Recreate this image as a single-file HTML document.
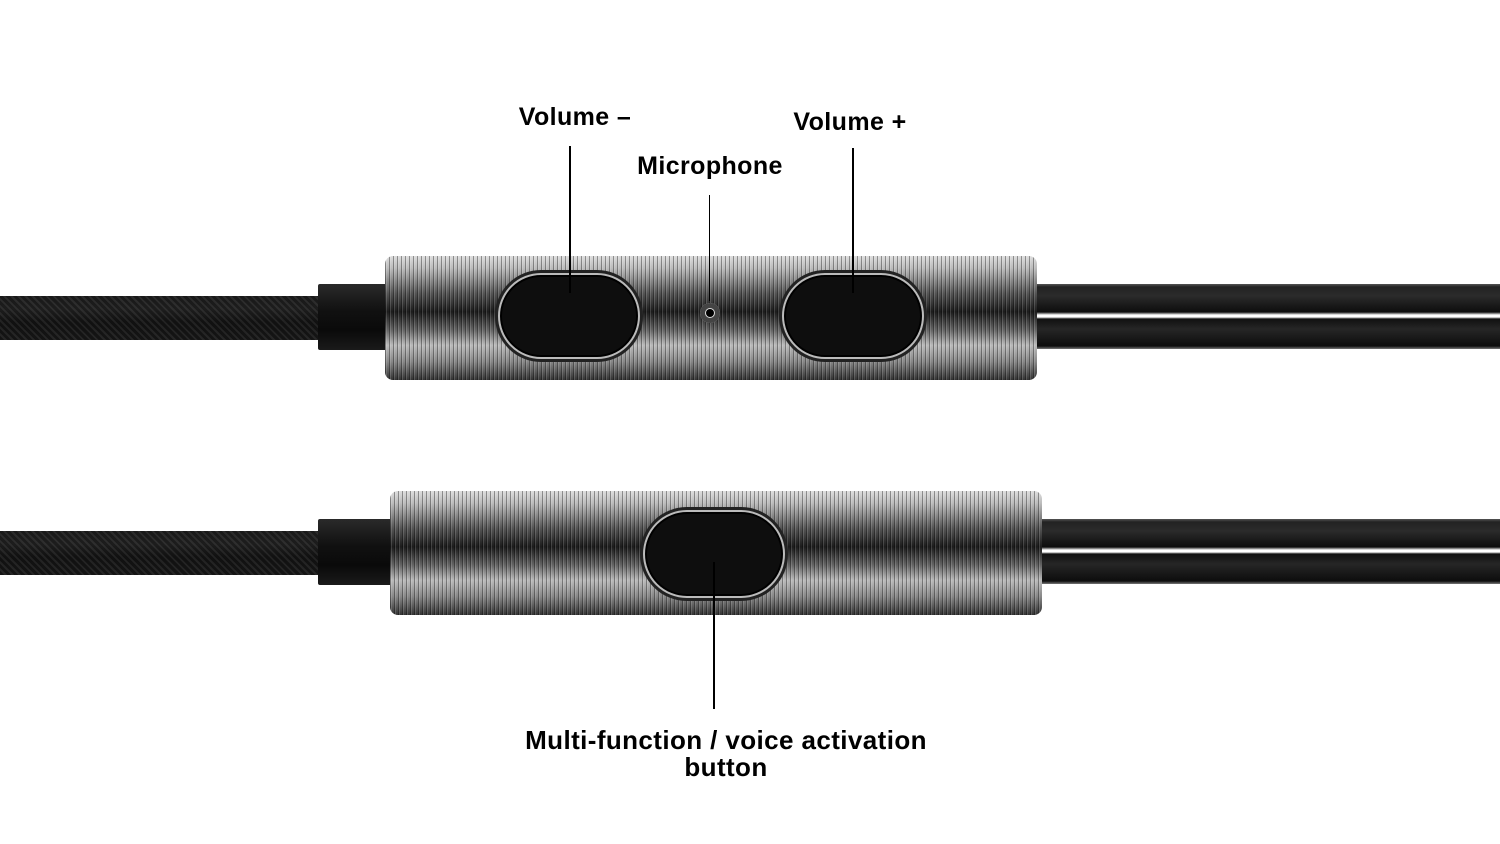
<!DOCTYPE html>
<html><head><style>
body{margin:0;width:1500px;height:844px;background:#fff;position:relative;overflow:hidden;font-family:"Liberation Sans",sans-serif}
.a{position:absolute}
.braid{background:repeating-linear-gradient(45deg,#111 0 3px,#333 3px 5px),#111;background-blend-mode:normal}
.braid2{background:linear-gradient(180deg,#222,#2a2a2a 30%,#111 60%,#1a1a1a)}
.collar{background:linear-gradient(180deg,#2a2a2a,#111 40%,#0a0a0a 70%,#1a1a1a);border-radius:2px}
.body{border-radius:8px;background:
repeating-linear-gradient(90deg,rgba(0,0,0,.35) 0 1px,rgba(255,255,255,.15) 1px 2px,rgba(0,0,0,0) 2px 4px),
linear-gradient(180deg,#ddd 0%,#bbb 10%,#555 30%,#1c1c1c 45%,#666 60%,#bbb 72%,#888 85%,#333 100%)}
.cable{background:linear-gradient(180deg,#555 0,#222 3px,#2b2b2b 12px,#0d0d0d 28px,#fff 31px,#fff 33px,#111 35px,#262626 45px,#0d0d0d 62px,#777 65px)}
.btn{border-radius:44px;background:#0e0e0e;border:2px solid #bbb;box-shadow:0 0 0 3px #222,inset 0 0 0 2px #000}
.t{position:absolute;font-weight:bold;font-size:25px;color:#000;text-align:center;white-space:nowrap;letter-spacing:.4px}
.l{position:absolute;width:2px;background:#000}
</style></head><body>
<div class="a braid2" style="left:0;top:296px;width:320px;height:44px"></div>
<div class="a braid" style="left:0;top:296px;width:320px;height:44px;opacity:.5"></div>
<div class="a collar" style="left:318px;top:284px;width:70px;height:66px"></div>
<div class="a cable" style="left:1034px;top:284px;width:466px;height:65px"></div>
<div class="a body" style="left:385px;top:256px;width:652px;height:124px"></div>
<div class="a btn" style="left:498px;top:273px;width:138px;height:82px"></div>
<div class="a btn" style="left:782px;top:273px;width:138px;height:82px"></div>
<div class="a" style="left:700px;top:303px;width:20px;height:20px;border-radius:50%;background:#ddd;box-shadow:inset 0 0 0 5px #444"></div>
<div class="a" style="left:706px;top:309px;width:8px;height:8px;border-radius:50%;background:#000"></div>
<div class="a braid2" style="left:0;top:531px;width:320px;height:44px"></div>
<div class="a braid" style="left:0;top:531px;width:320px;height:44px;opacity:.5"></div>
<div class="a collar" style="left:318px;top:519px;width:75px;height:66px"></div>
<div class="a cable" style="left:1038px;top:519px;width:462px;height:65px"></div>
<div class="a body" style="left:390px;top:491px;width:652px;height:124px"></div>
<div class="a btn" style="left:643px;top:510px;width:138px;height:84px"></div>
<div class="t" style="left:475px;top:103px;width:200px">Volume –</div>
<div class="t" style="left:610px;top:152px;width:200px">Microphone</div>
<div class="t" style="left:750px;top:108px;width:200px">Volume +</div>
<div class="l" style="left:569px;top:146px;height:147px"></div>
<div class="l" style="left:709px;top:195px;height:106px;width:1px"></div>
<div class="l" style="left:852px;top:148px;height:145px"></div>
<div class="l" style="left:713px;top:562px;height:147px"></div>
<div class="t" style="left:476px;top:727px;width:500px;line-height:27px;font-size:26px">Multi-function / voice activation<br>button</div>
</body></html>
